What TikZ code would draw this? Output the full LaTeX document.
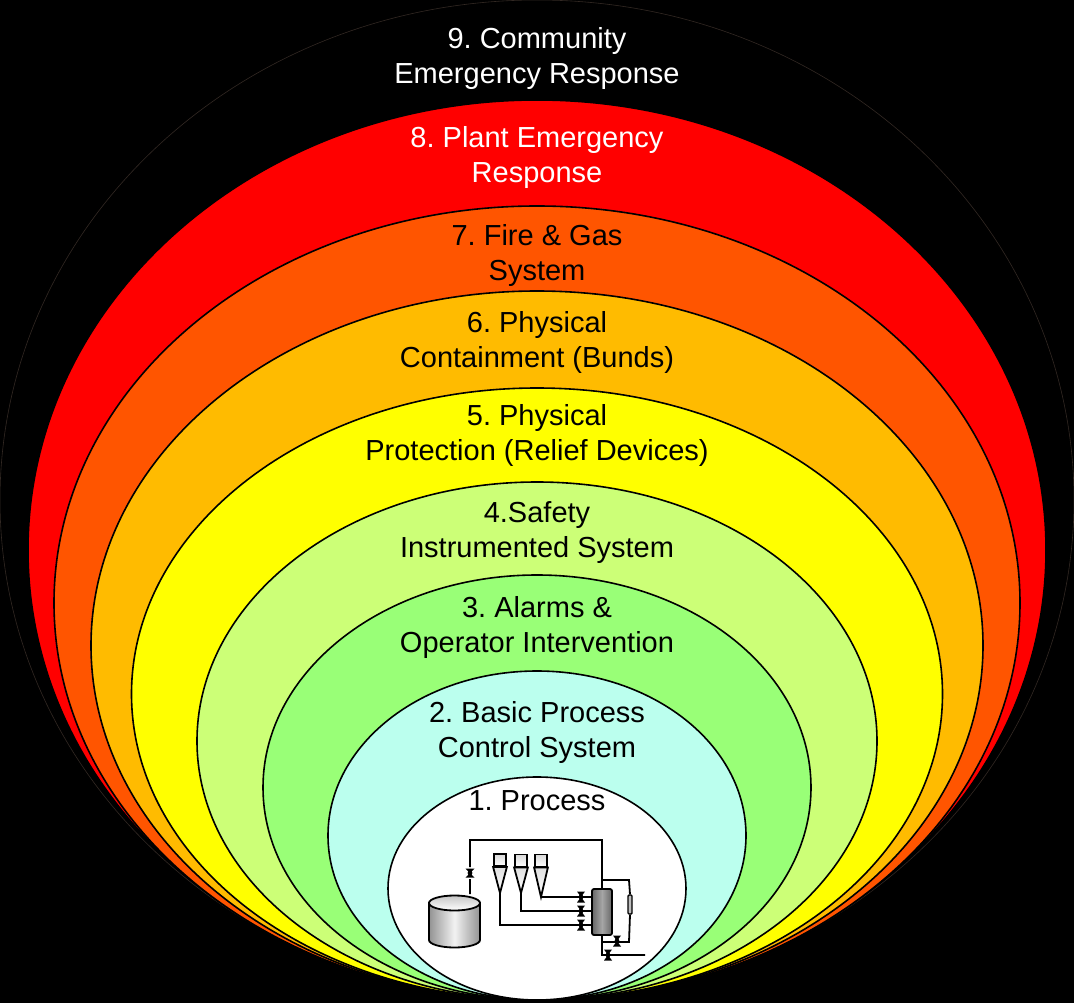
\documentclass[tikz,border=0pt]{standalone}
\usepackage{fontspec}
\setmainfont{Liberation Sans}
\frenchspacing
\usetikzlibrary{shapes.geometric,positioning}
\definecolor{layer9}{RGB}{50,40,35}
\definecolor{layer8}{HTML}{FF0000}
\definecolor{layer7}{HTML}{FF5500}
\definecolor{layer6}{HTML}{FFBB00}
\definecolor{layer5}{HTML}{FFFF00}
\definecolor{layer4}{HTML}{CCFF77}
\definecolor{layer3}{HTML}{99FF77}
\definecolor{layer2}{HTML}{BBFFEE}
\tikzset{
layer/.style={draw=black, ellipse, line width=1.6pt, inner sep=0pt},
caption/.style={align=center, text=black, font=\fontsize{29}{35}\selectfont},
pipe/.style={draw=black, line width=1.8pt},
valve/.style={minimum width=8pt, minimum height=11pt, inner sep=0pt, path picture={
\fill[black] (path picture bounding box.north west) -- (path picture bounding box.north east) -- (path picture bounding box.south west) -- (path picture bounding box.south east) -- cycle;
\fill[black] (path picture bounding box.center) circle (2.4pt);}},
hopper/.style={draw=black, line width=1.8pt, top color=gray!30, bottom color=white, minimum width=12pt, minimum height=12pt, inner sep=0pt},
cone/.style={draw=black, line width=1.8pt, top color=gray!25, bottom color=white}
}
\begin{document}
\begin{tikzpicture}[x=1pt, y=-1pt]
\useasboundingbox (0,0) rectangle (1074,1003);
\fill[black] (0,0) rectangle (1074,1003);
% layers, outermost first
\node[layer, draw=layer9, line width=.6pt, fill=black, minimum width=1074pt, minimum height=1000pt] (l9) at (537,500) {};
\node[layer, fill=layer8, minimum width=1018pt, minimum height=900pt] (l8) at (537,550) {};
\node[layer, fill=layer7, minimum width=966pt, minimum height=794pt] (l7) at (537,603) {};
\node[layer, fill=layer6, minimum width=892pt, minimum height=709pt] (l6) at (537,645.5) {};
\node[layer, fill=layer5, minimum width=811pt, minimum height=612pt] (l5) at (537,694) {};
\node[layer, fill=layer4, minimum width=680pt, minimum height=518pt] (l4) at (537,741) {};
\node[layer, fill=layer3, minimum width=548pt, minimum height=425pt] (l3) at (537,787.5) {};
\node[layer, fill=layer2, minimum width=418pt, minimum height=329pt] (l2) at (537,835.5) {};
\node[layer, fill=white, minimum width=298pt, minimum height=223pt] (l1) at (537,888.5) {};
% captions
\node[caption, text=white] (t9) at (537,58.5) {9. Community\\Emergency Response};
\node[caption, text=white] (t8) at (537,157.5) {8. Plant Emergency\\Response};
\node[caption] (t7) at (537,255.5) {7. Fire \& Gas\\System};
\node[caption] (t6) at (537,342) {6. Physical\\Containment (Bunds)};
\node[caption] (t5) at (537,435) {5. Physical\\Protection (Relief Devices)};
\node[caption] (t4) at (537,532.5) {4.Safety\\Instrumented System};
\node[caption] (t3) at (537,627) {3. Alarms \&\\Operator Intervention};
\node[caption] (t2) at (537,732) {2. Basic Process\\Control System};
\node[caption] (t1) at (537,801) {1. Process};
% process equipment
\node[draw=black, line width=1.8pt, rounded corners=2pt, left color=gray!80!black, right color=gray!80!black, middle color=gray!70, minimum width=20pt, minimum height=46pt, inner sep=0pt] (column) at (602,912) {};
\node[draw=black, line width=1.4pt, fill=gray!50, rounded corners=1pt, minimum width=4pt, minimum height=19pt, inner sep=0pt] (heater) at (630,904.5) {};
\path[draw=black, line width=1.8pt, left color=gray!85, right color=gray!85, middle color=gray!10] (429,903) -- (429,940) arc[start angle=180, end angle=0, x radius=25.5, y radius=7.5] -- (480,903) -- cycle;
\node[draw=black, line width=1.8pt, ellipse, top color=gray!45, bottom color=white, minimum width=51pt, minimum height=15pt, inner sep=0pt] (tank) at (454.5,903) {};
\node[hopper] (h1) at (500,860) {};
\node[hopper] (h2) at (521,860.5) {};
\node[hopper] (h3) at (541,860.5) {};
\coordinate (c1) at (500,893);
\coordinate (c2) at (521,893);
\coordinate (c3) at (541,897);
\draw[cone] (h1.south west) -- (c1) -- (h1.south east) -- cycle;
\draw[cone] (h2.south west) -- (c2) -- (h2.south east) -- cycle;
\draw[cone] (h3.south west) -- (c3) -- (h3.south east) -- cycle;
% pipework
\coordinate (a1) at (470,840);
\coordinate (a2) at (602,840);
\coordinate (a3) at (470,894);
\coordinate (b1) at (629,880);
\coordinate (b2) at (603,880);
\coordinate (b3) at (629,942);
\coordinate (b4) at (602,942);
\coordinate (d1) at (602,955);
\coordinate (d2) at (645,955);
\coordinate (e2) at (500,925);
\coordinate (e3) at (521,911);
\coordinate (v0a) at (470,879);
\coordinate (v0b) at (470,867);
\path[pipe]
(a3) -- (v0a)
(v0b) -- (a1) -- (a2) -- (column.north)
(b2) -- (b1) -- (heater.north)
(heater.south) -- (b3) -- (b4)
(column.south) -- (d1) -- (d2)
(c3) -- (column.west |- c3)
(c2) -- (e3) -- (column.west |- e3)
(c1) -- (e2) -- (column.west |- e2);
% valves
\node[valve, rotate=90, minimum width=9pt, minimum height=9pt] (v0) at (470,873) {};
\node[valve] (v1) at (581,897) {};
\node[valve] (v2) at (581,911) {};
\node[valve] (v3) at (581,925) {};
\node[valve] (v4) at (617,941) {};
\node[valve] (v5) at (608,955) {};
\end{tikzpicture}
\end{document}
